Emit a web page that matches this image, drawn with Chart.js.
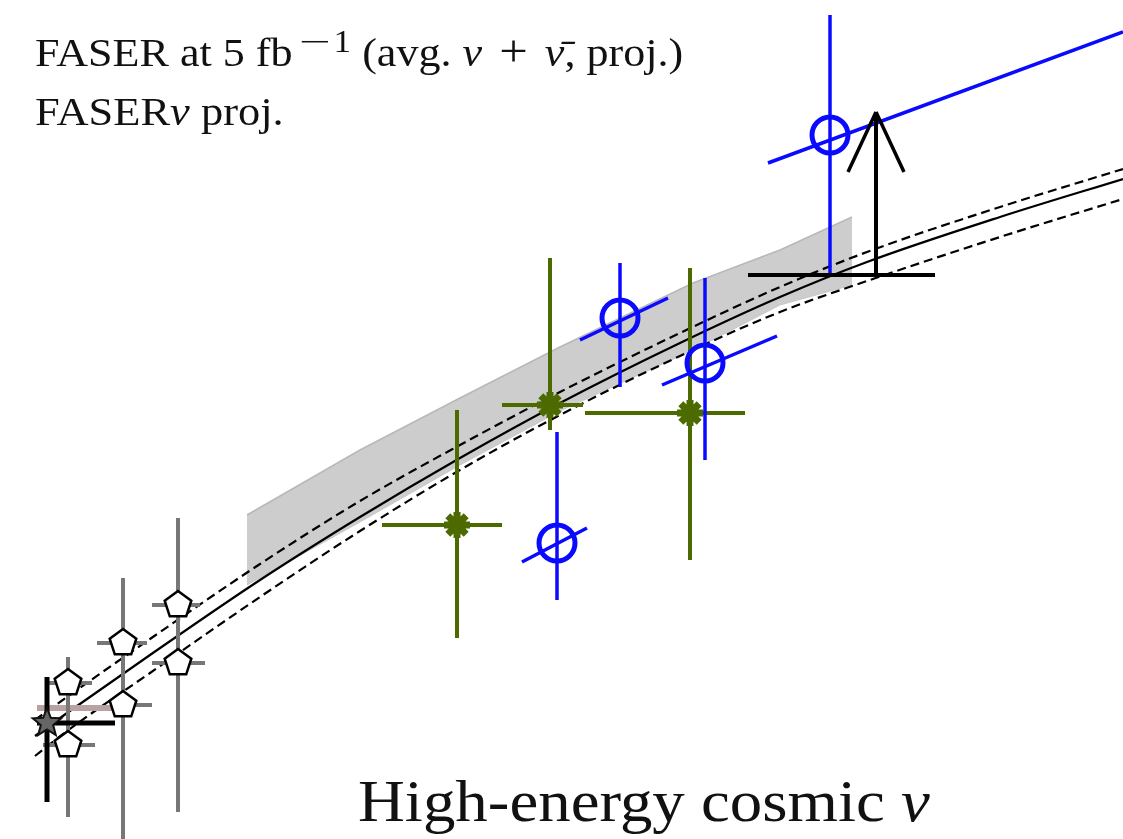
<!DOCTYPE html>
<html>
<head>
<meta charset="utf-8">
<script src="https://cdn.jsdelivr.net/npm/chart.js@4.4.1/dist/chart.umd.min.js"></script>
<style>
  body { margin: 0; background: #fff; }
  #wrap { position: relative; width: 1123px; height: 839px; overflow: hidden; }
  .lbl { position: absolute; font-family: "Liberation Serif", serif; color: #111; line-height: 1; white-space: nowrap; transform-origin: 0 0; }
  .lbl sup { font-size: 0.8em; vertical-align: 0.45em; line-height: 0; margin-left: 0.1em; }
  .mn { display: inline-block; transform: scaleX(1.6); margin: 0 0.25em; }
  .op { font-size: 1.15em; margin: 0 0.12em; line-height: 0; }
</style>
</head>
<body>
<div id="wrap">
  <canvas id="chart" width="1123" height="839"></canvas>
  <div class="lbl" style="left:35px; top:33px; font-size:39px; transform:scaleX(1.13);">FASER at 5 fb<sup><span class="mn">−</span>1</sup> (avg. <i>ν</i> <span class="op">+</span> <i>ν̄</i>, proj.)</div>
  <div class="lbl" style="left:35px; top:92px; font-size:39px; transform:scaleX(1.14);">FASER<i>ν</i> proj.</div>
  <div class="lbl" style="left:358px; top:772px; font-size:59px; transform:scaleX(1.1);">High-energy cosmic <i>ν</i></div>
</div>
<script>
// cropped panel, no visible axes: x and y in plot units
const curveX   = [0.35, 0.67, 1.50, 2.60, 3.60, 4.60, 5.60, 6.80, 7.80, 8.67, 10.00, 11.23];
const curveMid = [1.03, 1.26, 1.84, 2.59, 3.22, 3.81, 4.36, 4.96, 5.42, 5.77, 6.22, 6.60];
const curveUp  = [1.19, 1.42, 2.00, 2.75, 3.38, 3.94, 4.47, 5.06, 5.52, 5.87, 6.32, 6.70];
const curveLow = [0.83, 1.08, 1.66, 2.42, 3.08, 3.69, 4.24, 4.83, 5.27, 5.58, 6.02, 6.40];

const bandX   = [2.47, 3.60, 4.60, 5.60, 6.93, 7.80, 8.52];
const bandTop = [3.24, 3.89, 4.41, 4.92, 5.56, 5.89, 6.22];
const bandBot = [2.54, 3.17, 3.74, 4.28, 4.89, 5.34, 5.54];

// blue open circles (FASER nu proj.)
const blueX     = [8.30, 6.20, 7.05, 5.57];
const blueY     = [7.04, 5.21, 4.76, 2.96];
const blueYLo   = [5.64, 4.52, 3.79, 2.39];
const blueYHi   = [8.24, 5.76, 5.61, 4.07];
const blueTiltX0 = [7.68, 5.80, 6.62, 5.22];
const blueTiltY0 = [6.76, 4.99, 4.54, 2.77];
const blueTiltX1 = [11.23, 6.68, 7.77, 5.87];
const blueTiltY1 = [8.07, 5.41, 5.03, 3.11];

// olive stars
const greenX   = [4.57, 5.50, 6.90];
const greenY   = [3.14, 4.34, 4.26];
const greenYLo = [2.01, 4.09, 2.79];
const greenYHi = [4.29, 5.81, 5.71];
const greenXLo = [3.82, 5.02, 5.85];
const greenXHi = [5.02, 5.83, 7.45];

// lower limit arrow
const limitX = 8.76, limitY = 5.64, limitTop = 7.27;
const limitXLo = 7.48, limitXHi = 9.35;
const arrowHalfW = 0.28, arrowDrop = 0.60;

// open pentagons (accelerator data)
const pentX   = [0.68, 0.68, 1.23, 1.23, 1.78, 1.78];
const pentY   = [1.56, 0.94, 1.96, 1.34, 2.34, 1.76];
const pentXLo = [0.45, 0.43, 0.97, 1.10, 1.52, 1.52];
const pentXHi = [0.92, 0.95, 1.47, 1.52, 2.00, 2.05];
const pentBarX  = [0.68, 1.23, 1.78];
const pentBarLo = [0.22, -0.10, 0.27];
const pentBarHi = [1.82, 2.61, 3.21];

// dark star with black bars
const starX = 0.47, starY = 1.16;
const starXLo = 0.37, starXHi = 1.15, starYLo = 0.37, starYHi = 1.62;
const pinkY = 1.31, pinkXLo = 0.37, pinkXHi = 1.12;

const BLUE = "#0a0aff";
const OLIVE = "#4d6a00";
const GREYBAR = "#777777";

function makeMarker(size, draw) {
    const c = document.createElement("canvas");
    c.width = size; c.height = size;
    draw(c.getContext("2d"), size / 2);
    return c;
}

function polyPath(ctx, cx, n, rOut, rIn) {
    ctx.beginPath();
    const steps = rIn ? n * 2 : n;
    for (let i = 0; i < steps; i++) {
        const r = rIn && i % 2 ? rIn : rOut;
        const a = -Math.PI / 2 + (i * 2 * Math.PI) / steps;
        ctx.lineTo(cx + r * Math.cos(a), cx + r * Math.sin(a));
    }
    ctx.closePath();
}

const pentagon = makeMarker(34, (ctx, c) => {
    polyPath(ctx, c, 5, 14);
    ctx.fillStyle = "#fff";
    ctx.fill();
    ctx.lineWidth = 2.5;
    ctx.strokeStyle = "#000";
    ctx.stroke();
});

const darkStar = makeMarker(36, (ctx, c) => {
    polyPath(ctx, c, 5, 15, 6.5);
    ctx.fillStyle = "#666";
    ctx.fill();
    ctx.lineWidth = 2;
    ctx.strokeStyle = "#111";
    ctx.stroke();
});

const datasets = [];

function seg(x0, y0, x1, y1, color, width) {
    datasets.push({
        data: [{ x: x0, y: y0 }, { x: x1, y: y1 }],
        showLine: true,
        borderColor: color,
        borderWidth: width,
        pointRadius: 0,
        borderCapStyle: "butt",
    });
}

function pts(xs, ys, extra) {
    datasets.push({
        data: xs.map((x, i) => ({ x, y: ys[i] })),
        showLine: false,
        ...extra,
    });
}

function curve(ys, dash, width) {
    datasets.push({
        data: curveX.map((x, i) => ({ x, y: ys[i] })),
        showLine: true,
        borderColor: "#000",
        borderWidth: width,
        borderDash: dash,
        pointRadius: 0,
        cubicInterpolationMode: "monotone",
    });
}

// grey band
datasets.push({
    data: bandX.map((x, i) => ({ x, y: bandTop[i] })),
    showLine: true,
    borderColor: "#b8b8b8",
    borderWidth: 1.5,
    backgroundColor: "#cdcdcd",
    pointRadius: 0,
    fill: "+1",
});
datasets.push({
    data: bandX.map((x, i) => ({ x, y: bandBot[i] })),
    showLine: true,
    borderColor: "#c8c8c8",
    borderWidth: 1,
    pointRadius: 0,
});

curve(curveMid, [], 2.2);
curve(curveUp, [9, 5], 2.2);
curve(curveLow, [9, 5], 2.2);

// pentagon points
seg(pinkXLo, pinkY, pinkXHi, pinkY, "#b9a2a2", 6);
pentBarX.forEach((x, i) => seg(x, pentBarLo[i], x, pentBarHi[i], GREYBAR, 4));
pentX.forEach((x, i) => seg(pentXLo[i], pentY[i], pentXHi[i], pentY[i], GREYBAR, 4));
pts(pentX, pentY, { pointStyle: pentagon, pointRadius: 16 });

// dark star
seg(starX, starYLo, starX, starYHi, "#000", 5);
seg(starXLo, starY, starXHi, starY, "#000", 5);
pts([starX], [starY], { pointStyle: darkStar, pointRadius: 18 });

// olive stars
greenX.forEach((x, i) => {
    seg(x, greenYLo[i], x, greenYHi[i], OLIVE, 4);
    seg(greenXLo[i], greenY[i], greenXHi[i], greenY[i], OLIVE, 4);
});
pts(greenX, greenY, { pointStyle: "star", pointRadius: 13, borderWidth: 7, borderColor: OLIVE });

// blue circles
blueX.forEach((x, i) => {
    seg(x, blueYLo[i], x, blueYHi[i], BLUE, 3.5);
    seg(blueTiltX0[i], blueTiltY0[i], blueTiltX1[i], blueTiltY1[i], BLUE, 3.5);
});
pts(blueX, blueY, { pointStyle: "circle", pointRadius: 18, borderWidth: 5, borderColor: BLUE, backgroundColor: "rgba(0,0,0,0)" });

// lower limit with arrow
seg(limitXLo, limitY, limitXHi, limitY, "#000", 4);
seg(limitX, limitY, limitX, limitTop, "#000", 4);
seg(limitX - arrowHalfW, limitTop - arrowDrop, limitX, limitTop, "#000", 3.5);
seg(limitX + arrowHalfW, limitTop - arrowDrop, limitX, limitTop, "#000", 3.5);

// first pushed is drawn first (bottom)
datasets.forEach((d, i) => { d.order = datasets.length - i; });

new Chart(document.getElementById("chart"), {
    type: "scatter",
    data: { datasets },
    options: {
        responsive: false,
        animation: false,
        layout: { padding: 0, autoPadding: false },
        plugins: { legend: { display: false }, tooltip: { enabled: false } },
        scales: {
            x: { type: "linear", min: 0, max: 11.23, display: false },
            y: { type: "linear", min: 0, max: 8.39, display: false },
        },
    },
});
</script>
</body>
</html>
